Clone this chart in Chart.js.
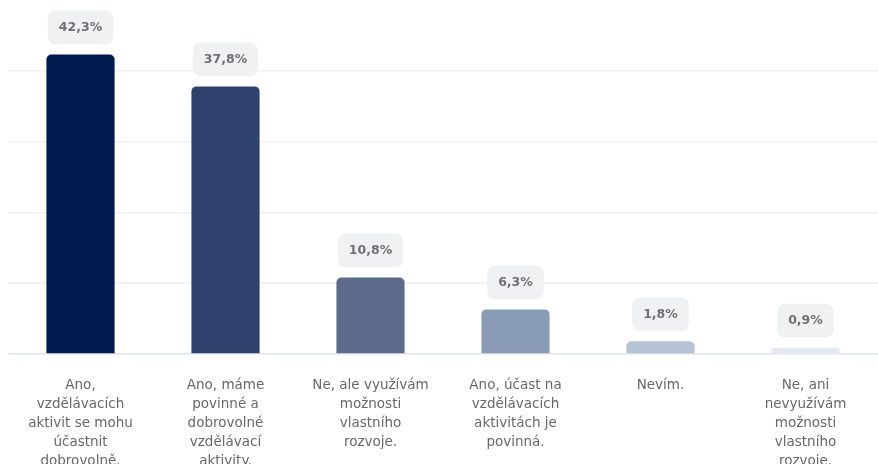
<!DOCTYPE html>
<html lang="cs">
<head>
<meta charset="UTF-8">
<title>Vzdělávací aktivity</title>
<style>
  html, body { margin: 0; padding: 0; background: #fff; }
  #wrap { width: 878px; height: 464px; position: relative; }
</style>
</head>
<body>
<div id="wrap"><canvas id="graf"></canvas></div>
<script src="https://cdn.jsdelivr.net/npm/chart.js"></script>
<script>
  const kategorie = [
    ['Ano,', 'vzdělávacích', 'aktivit se mohu', 'účastnit', 'dobrovolně.'],
    ['Ano, máme', 'povinné a', 'dobrovolné', 'vzdělávací', 'aktivity.'],
    ['Ne, ale využívám', 'možnosti', 'vlastního', 'rozvoje.'],
    ['Ano, účast na', 'vzdělávacích', 'aktivitách je', 'povinná.'],
    ['Nevím.'],
    ['Ne, ani', 'nevyužívám', 'možnosti', 'vlastního', 'rozvoje.']
  ];
  const hodnoty = [42.3, 37.8, 10.8, 6.3, 1.8, 0.9];
  const barvy = ['#001a4e', '#2f416d', '#5c6b8b', '#8a9bb6', '#b6c3d6', '#e4eaf3'];

  // popisky nad sloupci v šedém rámečku
  const popisky = {
    id: 'popisky',
    afterDatasetsDraw(chart) {
      const ctx = chart.ctx;
      const meta = chart.getDatasetMeta(0);
      ctx.save();
      ctx.font = 'bold 12.5px "DejaVu Sans", sans-serif';
      ctx.textAlign = 'center';
      ctx.textBaseline = 'middle';
      meta.data.forEach((bar, i) => {
        const text = hodnoty[i].toFixed(1).replace('.', ',') + '%';
        const w = ctx.measureText(text).width + 22;
        const h = 34;
        const x = bar.x - w / 2;
        const y = bar.y - 10 - h;
        ctx.fillStyle = '#f0f1f2';
        ctx.beginPath();
        ctx.roundRect(x, y, w, h, 8);
        ctx.fill();
        ctx.fillStyle = '#6e7073';
        ctx.fillText(text, bar.x, y + h / 2);
      });
      ctx.restore();
    }
  };

  new Chart(document.getElementById('graf'), {
    type: 'bar',
    data: {
      labels: kategorie,
      datasets: [{
        data: hodnoty,
        backgroundColor: barvy,
        borderRadius: 5,
        barPercentage: 0.47,
        categoryPercentage: 1
      }]
    },
    options: {
      responsive: true,
      maintainAspectRatio: false,
      animation: false,
      layout: { padding: { left: 8, right: 0, top: 0, bottom: 0 } },
      plugins: { legend: { display: false }, tooltip: { enabled: false } },
      scales: {
        x: {
          grid: { display: false },
          border: { display: false },
          afterFit(scale) { scale.height = 110; },
          ticks: {
            color: '#686868',
            font: { family: '"DejaVu Sans", sans-serif', size: 13.5, lineHeight: 1.4 },
            padding: 14,
            maxRotation: 0,
            autoSkip: false
          }
        },
        y: {
          min: 0,
          max: 50,
          ticks: { display: false, stepSize: 10 },
          border: { display: false },
          grid: {
            drawTicks: false,
            lineWidth: 1.5,
            color: (c) => c.tick.value === 0 ? '#dde4ef' : (c.tick.value === 50 ? 'rgba(0,0,0,0)' : '#efefef')
          }
        }
      }
    },
    plugins: [popisky]
  });
</script>
</body>
</html>
